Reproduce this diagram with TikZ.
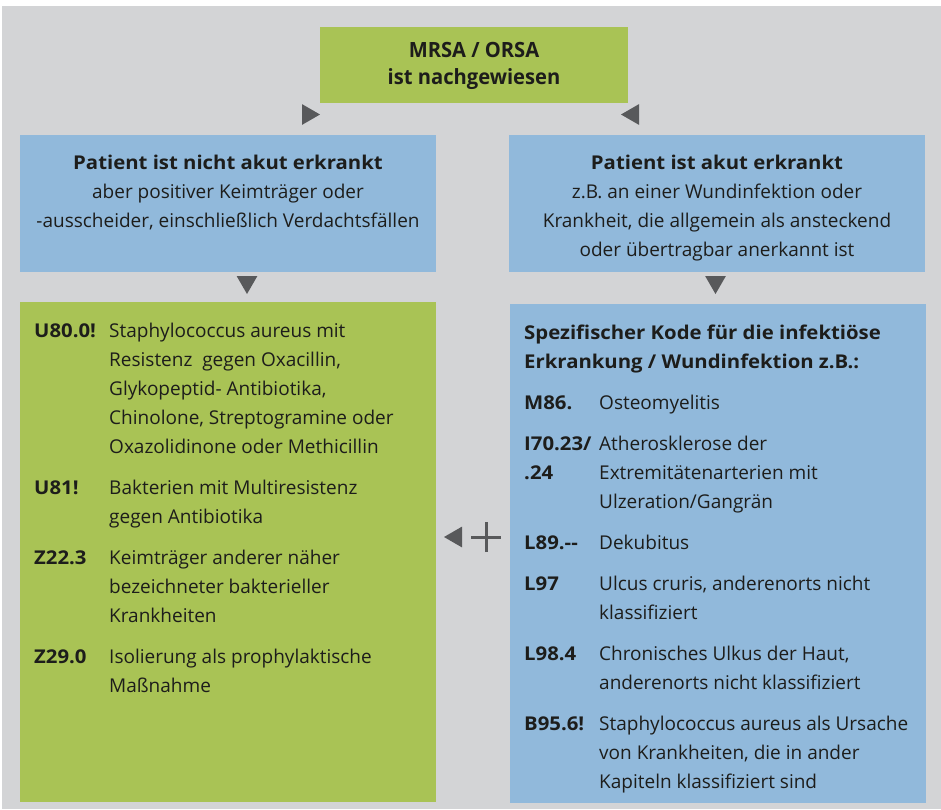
\documentclass[tikz,border=0pt]{standalone}
\usepackage{fontspec}
\setmainfont{Open Sans}[BoldFeatures={FakeStretch=1.07}]
\newfontfamily\narrowfont[FakeStretch=0.96]{Open Sans}
\usepackage{xcolor}
\usetikzlibrary{calc,shapes.geometric}

\definecolor{panelgray}{HTML}{D3D4D6}
\definecolor{codegreen}{HTML}{A9C355}
\definecolor{codeblue}{HTML}{91B9DB}
\definecolor{pointergray}{HTML}{58595B}
\definecolor{ink}{HTML}{1D1D1B}

\newcommand{\bodysize}{\fontsize{19}{29}\selectfont}

\tikzset{
  box/.style={rectangle, inner sep=0pt, outer sep=0pt, anchor=north west},
  pointer/.style={regular polygon, regular polygon sides=3, minimum size=24pt,
    inner sep=0pt, fill=pointergray},
  boxtext/.style={inner sep=0pt, text=ink, font=\bodysize},
  plusbar/.style={line width=3pt, pointergray}
}

\begin{document}
\begin{tikzpicture}[x=1pt,y=1pt]
  \useasboundingbox (0,0) rectangle (941,-809);
  \fill[white] (0,0) rectangle (941,-809);
  \fill[panelgray] (2,-6) rectangle (941,-809);

  % boxes
  \node[box, fill=codegreen, minimum width=308pt, minimum height=76pt] (start) at (320,-27) {};
  \node[box, fill=codeblue, minimum width=416pt, minimum height=137pt] (notacute) at (20,-135) {};
  \node[box, fill=codeblue, minimum width=416pt, minimum height=137pt] (acute) at (509,-135) {};
  \node[box, fill=codegreen, minimum width=416pt, minimum height=500pt] (carrier) at (20,-302) {};
  \node[box, fill=codeblue, minimum width=416pt, minimum height=499pt] (infection) at (510,-304) {};

  % pointers between the boxes
  \node[pointer, rotate=-90] (toleft) at (308,-114.5) {};
  \node[pointer, rotate=90] (toright) at (633,-114.5) {};
  \node[pointer, rotate=180] (downleft) at (247,-282) {};
  \node[pointer, rotate=180] (downright) at (715.5,-282) {};
  \node[pointer, rotate=90] (addleft) at (456,-537) {};
  \coordinate (plus) at (486,-537);
  \draw[plusbar] ($(plus)+(-15,0)$) -- ($(plus)+(15,0)$);
  \draw[plusbar] ($(plus)+(0,-15)$) -- ($(plus)+(0,15)$);

  % texts
  \node[boxtext, anchor=base, font=\narrowfont\bfseries\fontsize{21}{27}\selectfont] (starttext) at (474,-57)
    {\begin{tabular}[t]{@{}c@{}}MRSA / ORSA\\ ist nachgewiesen\end{tabular}};

  \node[boxtext, anchor=base] (notacutetext) at (228,-169)
    {\begin{tabular}[t]{@{}c@{}}\textbf{Patient ist nicht akut erkrankt}\\
      aber positiver Keimträger oder\\
      -ausscheider, einschließlich Verdachtsfällen\end{tabular}};

  \node[boxtext, anchor=base] (acutetext) at (717,-169)
    {\begin{tabular}[t]{@{}c@{}}\textbf{Patient ist akut erkrankt}\\
      z.B. an einer Wundinfektion oder\\
      Krankheit, die allgemein als ansteckend\\
      oder übertragbar anerkannt ist\end{tabular}};

  \node[boxtext, anchor=base west] (carriertext) at (34,-337)
    {\begin{tabular}[t]{@{}p{75pt}@{}p{320pt}@{}}
      \textbf{U80.0!} & Staphylococcus aureus mit\newline
        Resistenz\ \ gegen Oxacillin,\newline
        Glykopeptid- Antibiotika,\newline
        Chinolone, Streptogramine oder\newline
        Oxazolidinone oder Methicillin\\[12pt]
      \textbf{U81!} & Bakterien mit Multiresistenz\newline
        gegen Antibiotika\\[12pt]
      \textbf{Z22.3} & Keimträger anderer näher\newline
        bezeichneter bakterieller\newline
        Krankheiten\\[12pt]
      \textbf{Z29.0} & Isolierung als prophylaktische\newline
        Maßnahme
    \end{tabular}};

  \node[boxtext, anchor=base west] (infectionhead) at (524,-339)
    {\begin{tabular}[t]{@{}l@{}}\textbf{Spezifischer Kode für die infektiöse}\\
      \textbf{Erkrankung / Wundinfektion z.B.:}\end{tabular}};

  \node[boxtext, anchor=base west] (infectiontext) at (524,-409)
    {\begin{tabular}[t]{@{}p{75pt}@{}p{320pt}@{}}
      \textbf{M86.} & Osteomyelitis\\[12pt]
      \textbf{I70.23/\newline .24} & Atherosklerose der\newline
        Extremitätenarterien mit\newline
        Ulzeration/Gangrän\\[12pt]
      \textbf{L89.-{}-} & Dekubitus\\[12pt]
      \textbf{L97} & Ulcus cruris, anderenorts nicht\newline
        klassifiziert\\[12pt]
      \textbf{L98.4} & Chronisches Ulkus der Haut,\newline
        anderenorts nicht klassifiziert\\[12pt]
      \textbf{B95.6!} & Staphylococcus aureus als Ursache\newline
        von Krankheiten, die in ander\newline
        Kapiteln klassifiziert sind
    \end{tabular}};
\end{tikzpicture}
\end{document}
